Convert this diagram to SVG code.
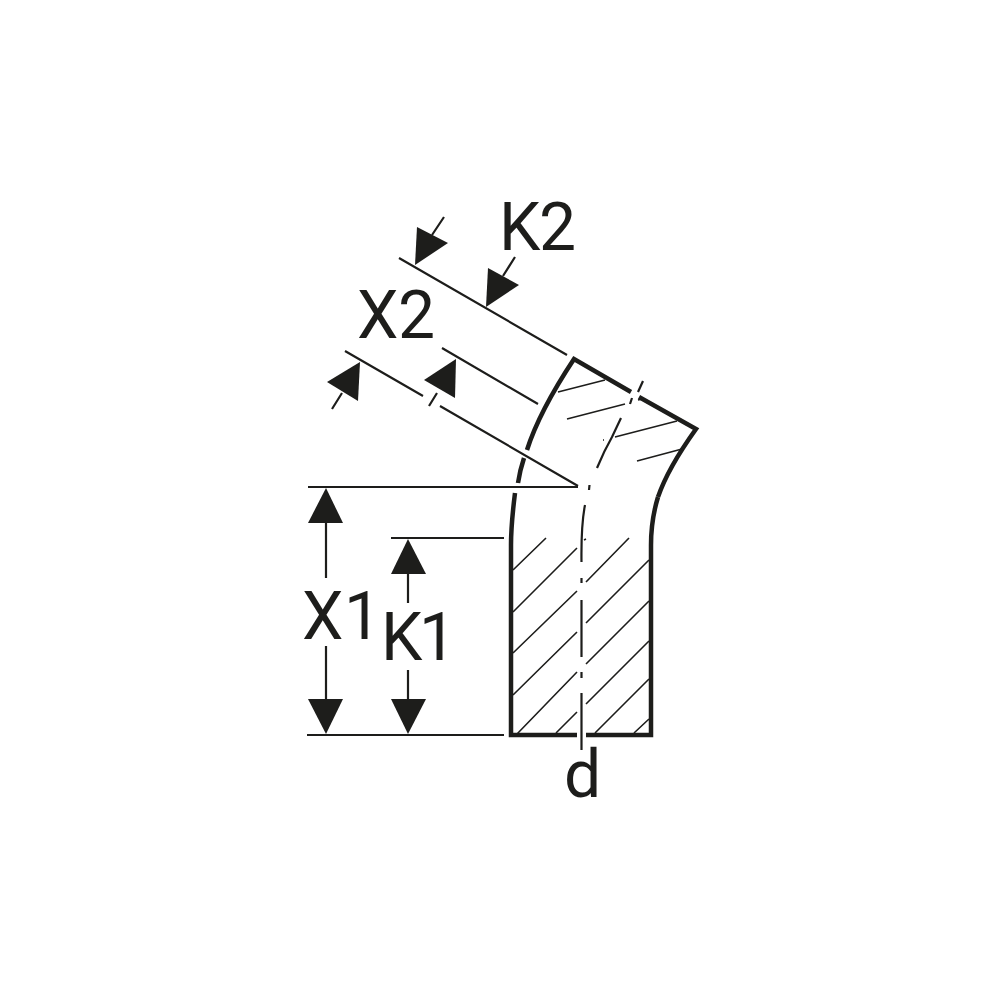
<svg xmlns="http://www.w3.org/2000/svg" width="1000" height="1000" viewBox="0 0 1000 1000">
<style>
.thick{fill:none;stroke:#1d1d1b;stroke-width:4.500;stroke-linejoin:miter}
.thin{fill:none;stroke:#1d1d1b;stroke-width:2.200}
.hatch{fill:none;stroke:#1d1d1b;stroke-width:1.600}
.head{fill:#1d1d1b;stroke:none}
text{font-family:Roboto,"Liberation Sans",Arial,sans-serif;font-size:66px;fill:#1d1d1b}
</style>
<rect width="1000" height="1000" fill="#ffffff"/>
<g id="body">
<path class="thick" d="M527 450Q539 412 574 359L631 392M639 397L696 429Q668 468 658 497"/>
<path class="thick" d="M658 497Q651 520 651 545V735H586M577 735H511V545Q511 525 515 493"/>
<path class="thick" d="M518 483Q520 470 524 458"/>
</g>
<g id="hatching">
<path class="hatch" d="M513 570L546 538M513 612L577 548M513 653L577 591M513 695L577 632M517 734L577 672M556 733L577 712M586 582L629 538M586 623L649 560M586 664L649 601M586 704L649 641M595 733L649 679M634 733L649 719"/>
<path class="hatch" d="M558 392L605 380M567 419L625 404M638 400L642 399M615 437L677 421M637 461L682 449"/>
</g>
<g id="centerline">
<path class="thin" d="M585 505Q581 525 581.5 562M581.5 578V583M581.5 600V657M581.5 672V678M581.5 693V750"/>
<path class="thin" d="M589.500 485L589 490M597 468Q604 451 612 437L621 418M630 404L632 398M638 392L643 381"/>
<path class="hatch" d="M584 540L586 539M603 440L604 440"/>
</g>
<g id="connectors">
<path class="thin" d="M399 258L567 355M442 348L538 404M345 351L423 396M440 406L578 486M308 487H578M391 538H504M307 735H504"/>
<path class="thin" d="M432 235L444 217M503 276L515 257M342 393L332 409M437 393L429 406"/>
<path class="thin" d="M326 523V578M326 646V700M408 574V603M408 670V700"/>
<polygon class="head" points="415,265 417,227 448,243"/>
<polygon class="head" points="486,307 488,268 519,285"/>
<polygon class="head" points="360,362 327,382 358,401"/>
<polygon class="head" points="456,359 424,380 455,398"/>
<polygon class="head" points="326,488 308,523 343,523"/>
<polygon class="head" points="326,734 308,699 343,699"/>
<polygon class="head" points="408,539 391,574 426,574"/>
<polygon class="head" points="408,734 391,699 426,699"/>
</g>
<g id="labels">
<text x="499 539" y="250">K2</text>
<text x="357 398" y="338">X2</text>
<text x="302 344" y="639">X1</text>
<text x="381 419" y="660">K1</text>
<text x="564" y="797">d</text>
</g>
</svg>
